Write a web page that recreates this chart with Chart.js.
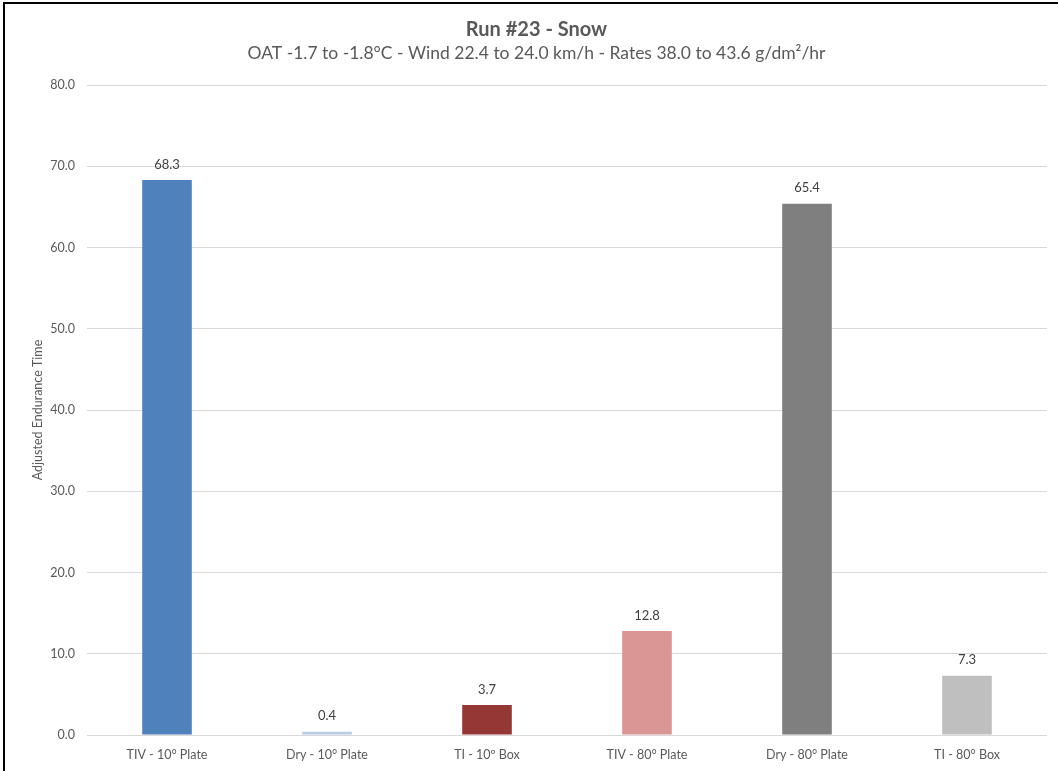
<!DOCTYPE html>
<html>
<head>
<meta charset="utf-8">
<script src="https://cdn.jsdelivr.net/npm/chart.js@4.4.0/dist/chart.umd.min.js"></script>
<style>
  html, body { margin: 0; padding: 0; background: #fff; }
  #wrap {
    position: relative;
    width: 1058px;
    height: 771px;
    box-sizing: border-box;
    border-top: 2px solid #000;
    border-left: 2px solid #000;
    border-bottom: 1px solid #d9d9d9;
    margin-left: 3px;
    margin-top: 2px;
  }
</style>
</head>
<body>
<div id="wrap"><canvas id="chart"></canvas></div>
<script>
const categories = ['TIV - 10° Plate', 'Dry - 10° Plate', 'TI - 10º Box', 'TIV - 80° Plate', 'Dry - 80° Plate', 'TI - 80° Box'];
const endurance = [68.3, 0.4, 3.7, 12.8, 65.4, 7.3];
const barColors = ['#4f81bd', '#b9cde5', '#953735', '#d99694', '#7f7f7f', '#bfbfbf'];
const yTicks = [0, 10, 20, 30, 40, 50, 60, 70, 80];

const fontFamily = 'Lato, "Open Sans", sans-serif';

// Value labels above each bar
const valueLabels = {
    id: 'valueLabels',
    afterDatasetsDraw(chart) {
        const ctx = chart.ctx;
        const meta = chart.getDatasetMeta(0);
        ctx.save();
        ctx.fillStyle = '#404040';
        ctx.font = '13px ' + fontFamily;
        ctx.textAlign = 'center';
        ctx.textBaseline = 'bottom';
        meta.data.forEach((bar, i) => {
            ctx.fillText(endurance[i].toFixed(1), bar.x, bar.y - 9);
        });
        ctx.restore();
    }
};

const canvas = document.getElementById('chart');
canvas.width = 1053;
canvas.height = 766;

new Chart(canvas.getContext('2d'), {
    type: 'bar',
    data: {
        labels: categories,
        datasets: [{
            data: endurance,
            backgroundColor: barColors,
            barPercentage: 0.31,
            categoryPercentage: 1.0
        }]
    },
    options: {
        responsive: false,
        animation: false,
        layout: { padding: { top: 10, right: 11, bottom: 4, left: 21 } },
        plugins: {
            legend: { display: false },
            tooltip: { enabled: false },
            title: {
                display: true,
                text: 'Run #23 - Snow',
                color: '#595959',
                font: { family: fontFamily, size: 20, weight: 'bold' },
                padding: { top: 4, bottom: 1 }
            },
            subtitle: {
                display: true,
                text: 'OAT -1.7 to -1.8°C - Wind 22.4 to 24.0 km/h - Rates 38.0 to 43.6 g/dm²/hr',
                color: '#595959',
                font: { family: fontFamily, size: 17.5 },
                padding: { bottom: 21 }
            }
        },
        scales: {
            x: {
                grid: { display: false },
                border: { display: false },
                ticks: {
                    color: '#595959',
                    font: { family: fontFamily, size: 12.5 },
                    padding: 4,
                    maxRotation: 0
                }
            },
            y: {
                min: 0,
                max: 80,
                afterBuildTicks(axis) {
                    axis.ticks = yTicks.map(v => ({ value: v }));
                },
                // keep the axis narrow so the title sits close to the tick labels
                afterFit(axis) {
                    axis.width = 61;
                },
                grid: { color: '#d9d9d9', lineWidth: 1, drawTicks: false },
                border: { display: false },
                ticks: {
                    color: '#595959',
                    font: { family: fontFamily, size: 12.5 },
                    padding: 12,
                    callback: v => v.toFixed(1)
                },
                title: {
                    display: true,
                    text: 'Adjusted Endurance Time',
                    color: '#595959',
                    font: { family: fontFamily, size: 12.5 },
                    padding: { bottom: 2 }
                }
            }
        }
    },
    plugins: [valueLabels]
});
</script>
</body>
</html>
